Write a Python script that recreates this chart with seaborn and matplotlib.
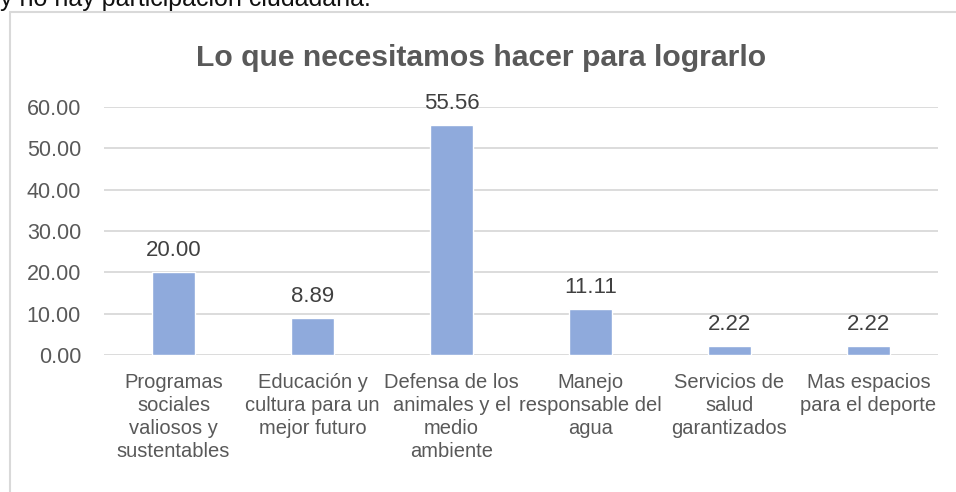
import seaborn as sns
import pandas as pd
import matplotlib.pyplot as plt
from matplotlib.patches import Rectangle

# datos del grafico
categorias = ["Programas\nsociales\nvaliosos y\nsustentables",
              "Educación y\ncultura para un\nmejor futuro",
              "Defensa de los\nanimales y el\nmedio\nambiente",
              "Manejo\nresponsable del\nagua",
              "Servicios de\nsalud\ngarantizados",
              "Mas espacios\npara el deporte"]
valores = [20.00, 8.89, 55.56, 11.11, 2.22, 2.22]
marcas_y = [0, 10, 20, 30, 40, 50, 60]

titulo = "Lo que necesitamos hacer para lograrlo"
texto_arriba = "y no hay participación ciudadana."

df = pd.DataFrame({"categoria": categorias, "valor": valores})

sns.set_theme(style="white")
plt.rcParams['font.family'] = ['Liberation Sans', 'DejaVu Sans']

fig = plt.figure(figsize=(9.56, 4.92), dpi=100)

# marco del grafico
fig.patches.append(Rectangle((10 / 956, -0.1), 1.2, 1 - 12 / 492 + 0.1, transform=fig.transFigure,
                             fill=False, edgecolor="#D9D9D9", linewidth=1.5))
# texto cortado de arriba (viene asi en la imagen original)
fig.text(0.0, 1 - 6 / 492, texto_arriba, fontsize=18, color="#111111",
         ha="left", va="baseline")

ax = fig.add_axes([104 / 956, 1 - 355 / 492, (938 - 104) / 956, (355 - 107) / 492])
sns.barplot(data=df, x="categoria", y="valor", color="#8FAADC", saturation=1, width=0.31, ax=ax)

ax.set_ylim(0, 60)
ax.set_xlim(-0.5, len(categorias) - 0.5)
ax.set_yticks(marcas_y)
ax.set_yticklabels([f"{v:.2f}" for v in marcas_y], fontsize=15.5, color="#595959")
ax.tick_params(axis="x", labelsize=14.5, labelcolor="#595959", length=0, pad=13)
ax.tick_params(axis="y", length=0, pad=16.5)
for t in ax.get_xticklabels():
    t.set_linespacing(1.27)
ax.set_xlabel("")
ax.set_ylabel("")
ax.yaxis.grid(True, color="#D9D9D9", linewidth=1.3)
ax.set_axisbelow(True)
for s in ax.spines.values():
    s.set_visible(False)

for p, v in zip(ax.patches, valores):
    ax.annotate(f"{v:.2f}", (p.get_x() + p.get_width() / 2, p.get_height()), xytext=(0, 8),
                textcoords="offset points", ha="center", va="bottom", fontsize=16,
                color="#404040")

fig.text(481 / 956, 1 - 58 / 492, titulo, fontsize=21.7, fontweight="bold", color="#595959",
         ha="center", va="center")

plt.savefig("out.png", dpi=100)
